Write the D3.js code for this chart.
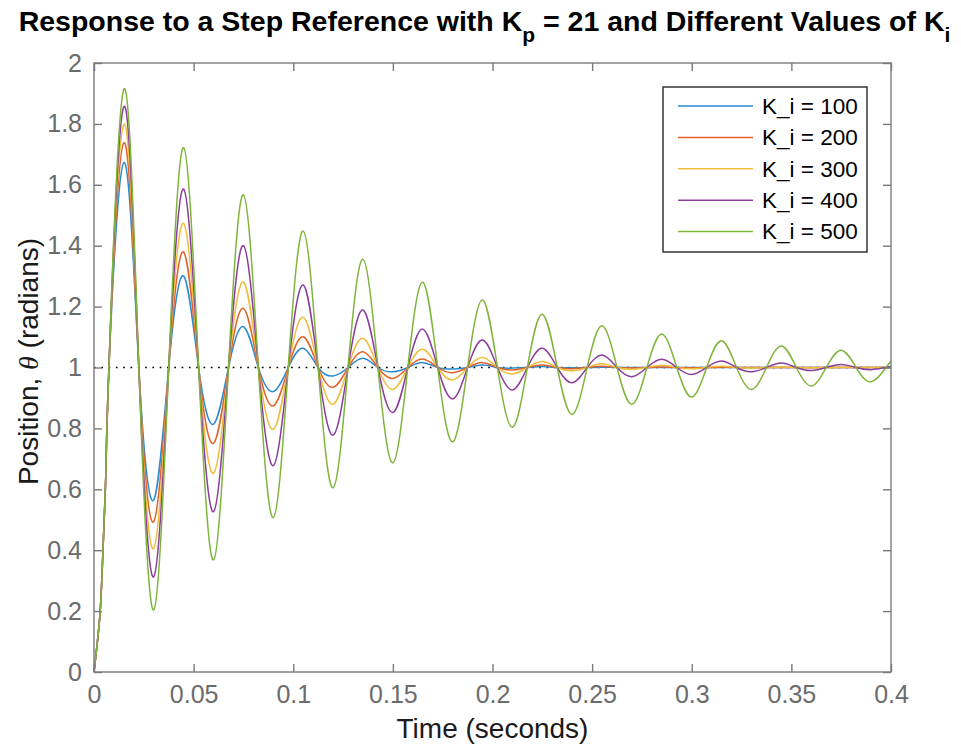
<!DOCTYPE html>
<html>
<head>
<meta charset="utf-8">
<script src="https://cdn.jsdelivr.net/npm/d3@7"></script>
<style>
  body { margin: 0; background: #fff; }
  text { font-family: "Liberation Sans", Arial, Helvetica, sans-serif; }
</style>
</head>
<body>
<div id="chart-area"></div>
<script>
// time samples (s): start of rise, then every quarter period (crossings / peaks / troughs)
const time = [
  0, 0.003, 0.0045, 0.006,
  0.0075, 0.015, 0.0225, 0.03,
  0.0375, 0.045, 0.0525, 0.06,
  0.0675, 0.075, 0.0825, 0.09,
  0.0975, 0.105, 0.1125, 0.12,
  0.1275, 0.135, 0.1425, 0.15,
  0.1575, 0.165, 0.1725, 0.18,
  0.1875, 0.195, 0.2025, 0.21,
  0.2175, 0.225, 0.2325, 0.24,
  0.2475, 0.255, 0.2625, 0.27,
  0.2775, 0.285, 0.2925, 0.3,
  0.3075, 0.315, 0.3225, 0.33,
  0.3375, 0.345, 0.3525, 0.36,
  0.3675, 0.375, 0.3825, 0.39,
  0.3975, 0.4
]

const ki100 = [
  0, 0.19, 0.4, 0.66,
  1, 1.673, 1, 0.565,
  1, 1.300, 1, 0.814,
  1, 1.134, 1, 0.921,
  1, 1.063, 1, 0.972,
  1, 1.030, 1, 0.986,
  1, 1.016, 1, 0.995,
  1, 1.008, 1, 0.998,
  1, 1.003, 1, 0.999,
  1, 1.001, 1, 1,
  1, 1, 1, 1,
  1, 1, 1, 1,
  1, 1, 1, 1,
  1, 1, 1, 1,
  1, 1
]

const ki200 = [
  0, 0.19, 0.4, 0.66,
  1, 1.738, 1, 0.494,
  1, 1.379, 1, 0.751,
  1, 1.194, 1, 0.874,
  1, 1.101, 1, 0.935,
  1, 1.052, 1, 0.964,
  1, 1.028, 1, 0.983,
  1, 1.016, 1, 0.992,
  1, 1.008, 1, 0.996,
  1, 1.004, 1, 0.998,
  1, 1.002, 1, 0.999,
  1, 1.001, 1, 1,
  1, 1, 1, 1,
  1, 1, 1, 1,
  1, 1
]

const ki300 = [
  0, 0.19, 0.4, 0.66,
  1, 1.799, 1, 0.406,
  1, 1.473, 1, 0.653,
  1, 1.280, 1, 0.797,
  1, 1.165, 1, 0.879,
  1, 1.096, 1, 0.928,
  1, 1.060, 1, 0.959,
  1, 1.033, 1, 0.979,
  1, 1.020, 1, 0.989,
  1, 1.012, 1, 0.994,
  1, 1.007, 1, 0.996,
  1, 1.004, 1, 0.998,
  1, 1.002, 1, 0.999,
  1, 1.001, 1, 1,
  1, 1
]

const ki400 = [
  0, 0.19, 0.4, 0.66,
  1, 1.857, 1, 0.313,
  1, 1.586, 1, 0.527,
  1, 1.400, 1, 0.678,
  1, 1.271, 1, 0.778,
  1, 1.189, 1, 0.852,
  1, 1.126, 1, 0.897,
  1, 1.090, 1, 0.926,
  1, 1.063, 1, 0.950,
  1, 1.041, 1, 0.970,
  1, 1.027, 1, 0.977,
  1, 1.021, 1, 0.986,
  1, 1.015, 1, 0.990,
  1, 1.010, 1, 0.993,
  1, 1.003
]

const ki500 = [
  0, 0.19, 0.4, 0.66,
  1, 1.914, 1, 0.204,
  1, 1.722, 1, 0.368,
  1, 1.567, 1, 0.507,
  1, 1.448, 1, 0.605,
  1, 1.355, 1, 0.687,
  1, 1.280, 1, 0.756,
  1, 1.222, 1, 0.804,
  1, 1.175, 1, 0.846,
  1, 1.137, 1, 0.879,
  1, 1.110, 1, 0.903,
  1, 1.088, 1, 0.928,
  1, 1.071, 1, 0.939,
  1, 1.057, 1, 0.953,
  1, 1.02
]

const seriesNames = ["K_i = 100", "K_i = 200", "K_i = 300", "K_i = 400", "K_i = 500"]
const seriesValues = [ki100, ki200, ki300, ki400, ki500]
const colours = ["#2a8cd0", "#e0622a", "#f0bc3c", "#8c3d9c", "#7fb53c"]

const xTicks = [0, 0.05, 0.1, 0.15, 0.2, 0.25, 0.3, 0.35, 0.4]
const yTicks = [0, 0.2, 0.4, 0.6, 0.8, 1, 1.2, 1.4, 1.6, 1.8, 2]

const margin = {top: 63, right: 70, bottom: 80, left: 94},
      width = 961 - margin.left - margin.right,
      height = 752 - margin.top - margin.bottom;

const root = d3.select("#chart-area")
  .append("svg")
    .attr("width", 961)
    .attr("height", 752)

const svg = root.append("g")
    .attr("transform", `translate(${margin.left},${margin.top})`);

const x = d3.scaleLinear().domain([0, 0.4]).range([0, width])
const y = d3.scaleLinear().domain([0, 2]).range([height, 0])

const axisGrey = "#7a7a7a"
const labelGrey = "#6b6b6b"

// reference line at 1
svg.append("line")
  .attr("x1", x(0)).attr("x2", x(0.4))
  .attr("y1", y(1)).attr("y2", y(1))
  .attr("stroke", "#000")
  .attr("stroke-width", 1.7)
  .attr("stroke-dasharray", "1.7,5.6")

// curves
const line = d3.line()
  .x((d, i) => x(time[i]))
  .y(d => y(d))
  .curve(d3.curveNatural)

svg.selectAll("path.curve")
  .data(seriesValues)
  .join("path")
    .attr("class", "curve")
    .attr("fill", "none")
    .attr("stroke", (d, i) => colours[i])
    .attr("stroke-width", 1.5)
    .attr("d", line)

// axes
const fmt = d => String(+d.toFixed(2))

const xaxis = svg.append("g")
  .attr("transform", `translate(0, ${height})`)
  .call(d3.axisBottom(x).tickValues(xTicks).tickFormat(fmt).tickSizeInner(-8).tickSizeOuter(0).tickPadding(13))
svg.append("g")
  .call(d3.axisTop(x).tickValues(xTicks).tickFormat("").tickSizeInner(-8).tickSizeOuter(0))
const yaxis = svg.append("g")
  .call(d3.axisLeft(y).tickValues(yTicks).tickFormat(fmt).tickSizeInner(-8).tickSizeOuter(0).tickPadding(12))
svg.append("g")
  .attr("transform", `translate(${width}, 0)`)
  .call(d3.axisRight(y).tickValues(yTicks).tickFormat("").tickSizeInner(-8).tickSizeOuter(0))

svg.selectAll(".domain").remove()
svg.selectAll(".tick line").attr("stroke", axisGrey).attr("stroke-width", 1.4)
svg.selectAll(".tick text")
  .attr("fill", labelGrey)
  .style("font-size", "25px")
  .style("font-family", "'Liberation Sans', Arial, sans-serif")

// box
svg.append("rect")
  .attr("width", width).attr("height", height)
  .attr("fill", "none")
  .attr("stroke", axisGrey)
  .attr("stroke-width", 1.4)

// axis labels
svg.append("text")
  .attr("x", width / 2)
  .attr("y", height + 66)
  .attr("text-anchor", "middle")
  .attr("fill", "#1a1a1a")
  .style("font-size", "28px")
  .text("Time (seconds)")

const ylab = svg.append("text")
  .attr("transform", `translate(${-56}, ${height / 2 - 6}) rotate(-90)`)
  .attr("text-anchor", "middle")
  .attr("fill", "#1a1a1a")
  .style("font-size", "28px")
ylab.append("tspan").text("Position, ")
ylab.append("tspan").style("font-style", "italic").style("font-family", "'Liberation Serif', serif").text("θ")
ylab.append("tspan").text(" (radians)")

// title
const title = root.append("text")
  .attr("x", 961 / 2 + 4)
  .attr("y", 31)
  .attr("text-anchor", "middle")
  .attr("fill", "#000")
  .style("font-size", "28.5px")
  .style("font-weight", "bold")
title.append("tspan").text("Response to a Step Reference with K")
title.append("tspan").attr("dy", 11).style("font-size", "21px").text("p")
title.append("tspan").attr("dy", -11).text(" = 21 and Different Values of K")
title.append("tspan").attr("dy", 11).style("font-size", "21px").text("i")

// legend
const legend = root.append("g").attr("transform", "translate(663, 87)")
legend.append("rect")
  .attr("width", 204).attr("height", 165)
  .attr("fill", "#fff")
  .attr("stroke", "#262626")
  .attr("stroke-width", 1.4)

seriesNames.forEach((name, i) => {
  const row = legend.append("g").attr("transform", `translate(0, ${19 + i * 31.4})`)
  row.append("line")
    .attr("x1", 15).attr("x2", 90)
    .attr("stroke", colours[i])
    .attr("stroke-width", 1.5)
  row.append("text")
    .attr("x", 99)
    .attr("dy", "0.35em")
    .attr("fill", "#000")
    .style("font-size", "22.5px")
    .text(name)
})
</script>
</body>
</html>
